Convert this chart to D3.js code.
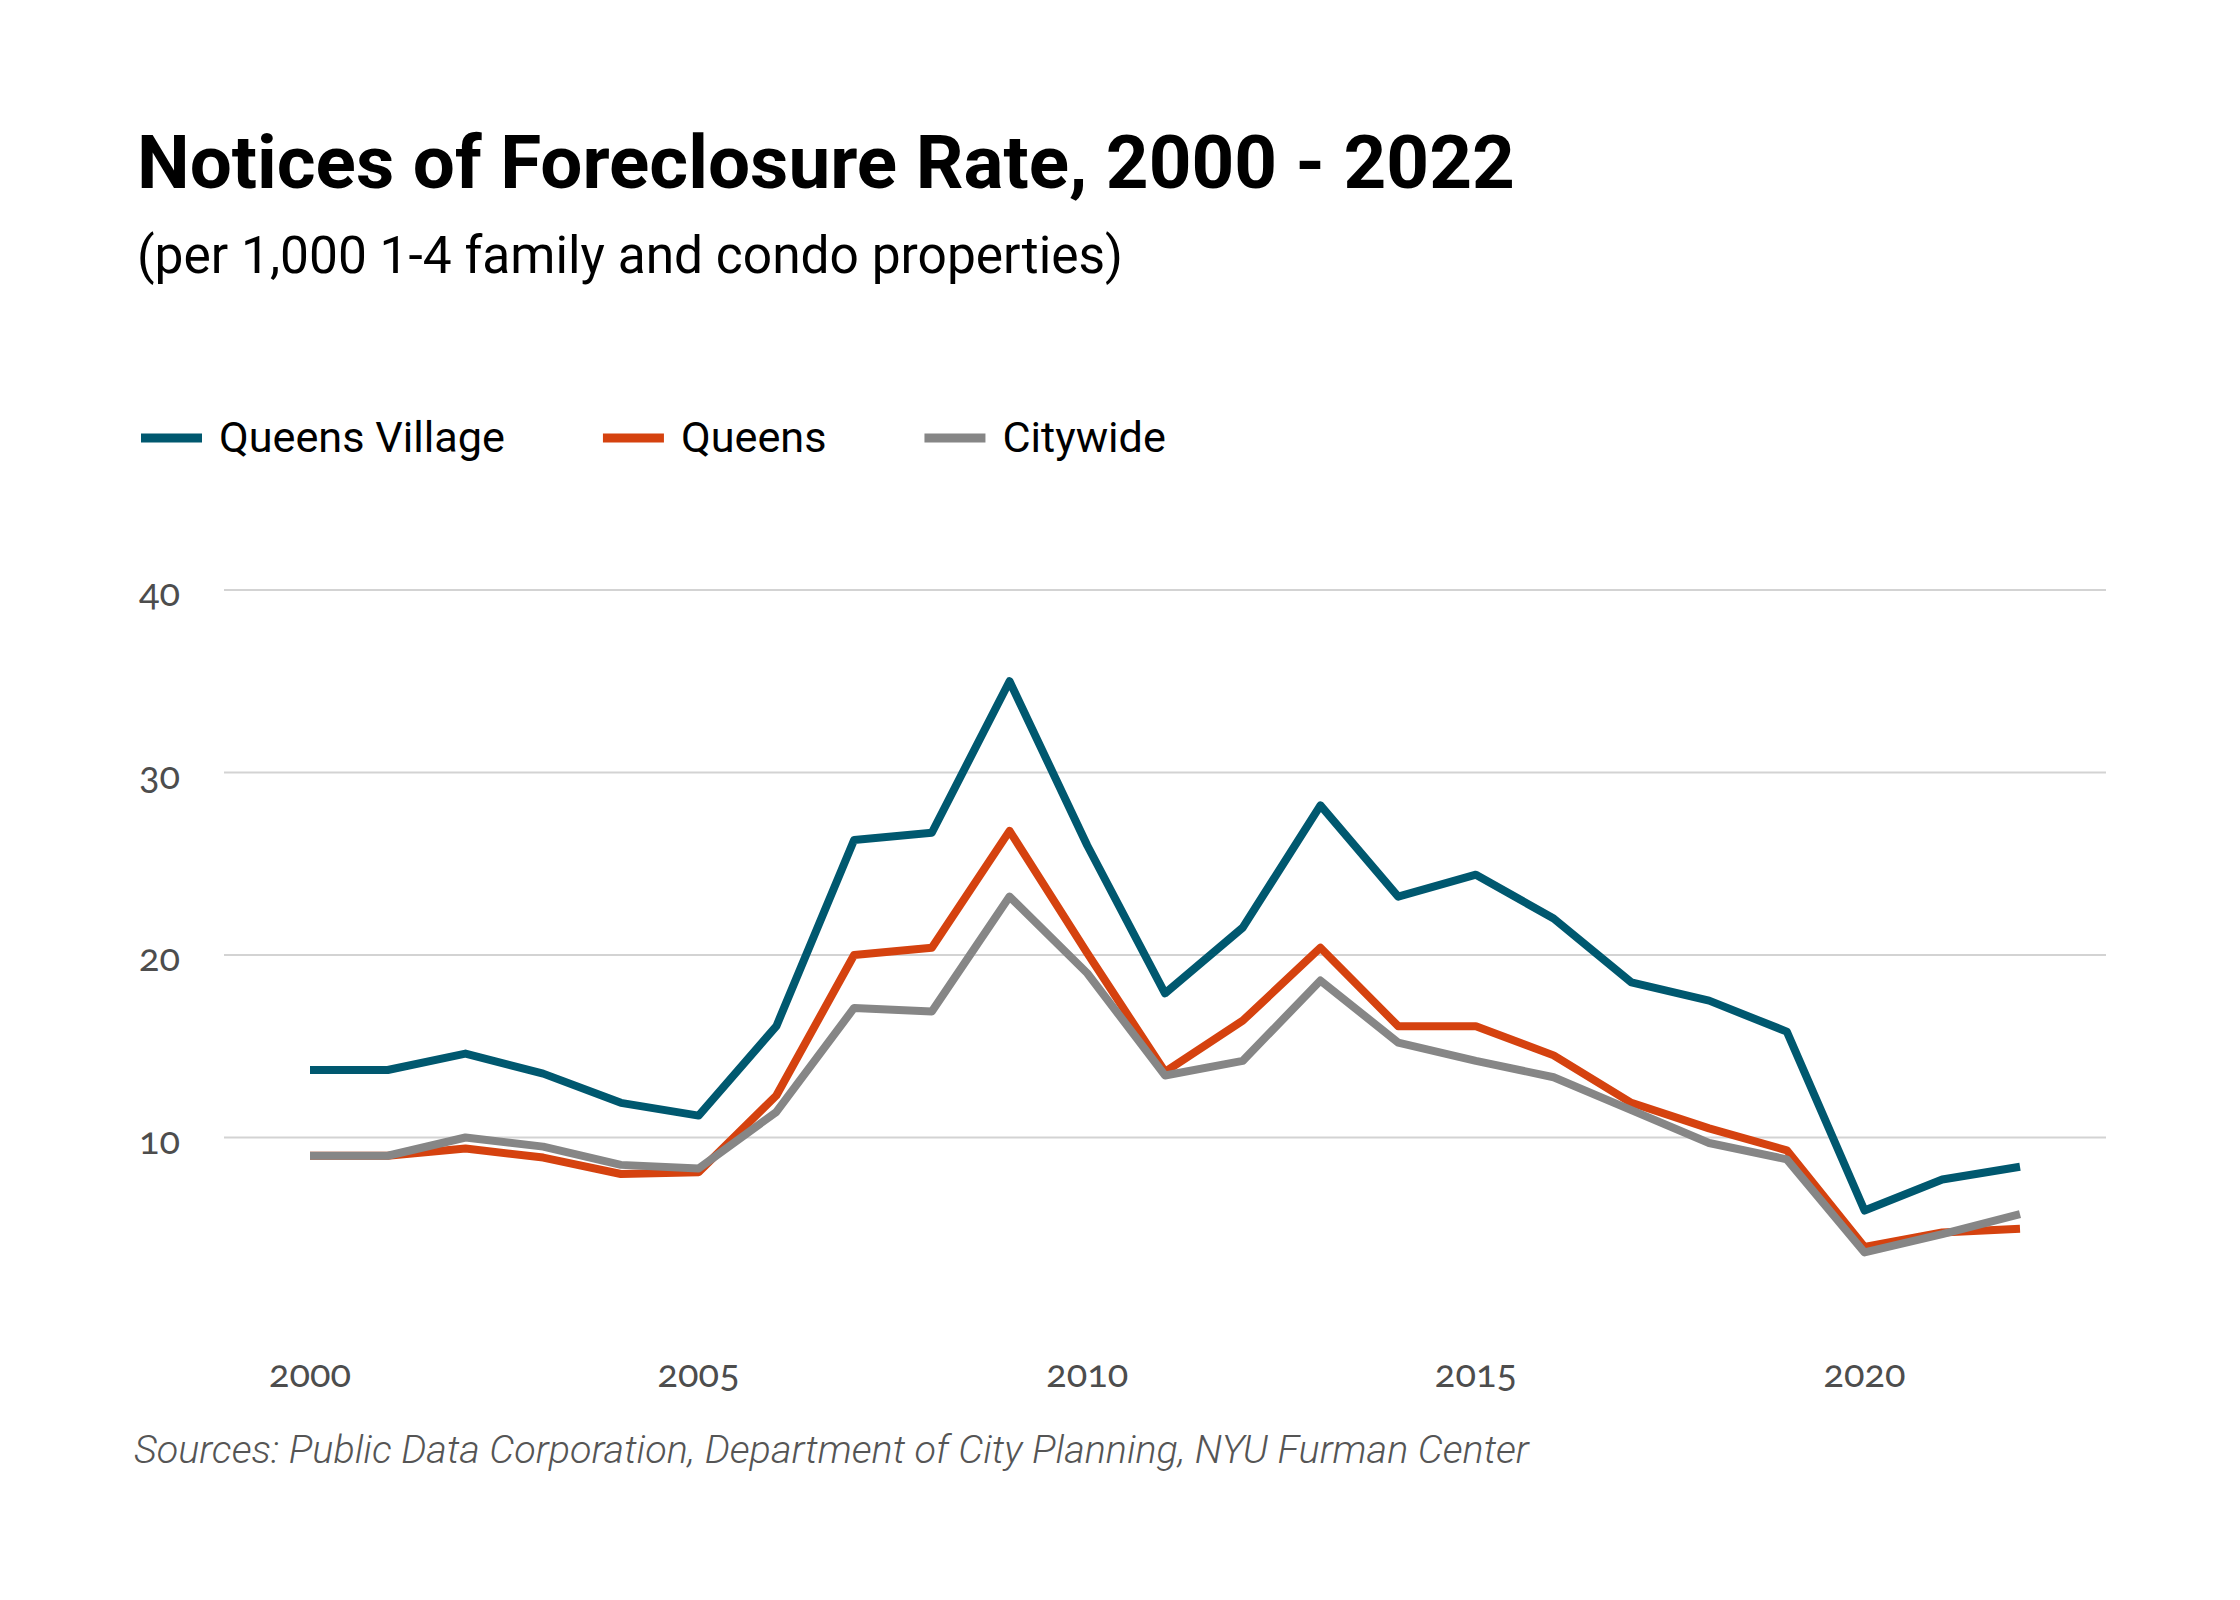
<!doctype html>
<html>
<head>
  <meta charset="utf-8">
  <script src="https://cdnjs.cloudflare.com/ajax/libs/d3/7.8.5/d3.min.js"></script>
  <style>
    body { margin: 0; background: #fff; }
    svg { display: block; }
    .tick-label { font-family: Lato, "Open Sans", sans-serif; font-variant-numeric: oldstyle-nums; }
  </style>
</head>
<body>
<svg width="2240" height="1600"></svg>
<script>
var years = d3.range(2000, 2023);
var seriesNames = ["Queens Village", "Queens", "Citywide"];
var seriesColors = ["#00586f", "#d5420f", "#868686"];

var queensVillage = [13.7, 13.7, 14.6, 13.5, 11.9, 11.2, 16.1, 26.3, 26.7, 35.0, 26.0, 17.9,
                     21.5, 28.2, 23.2, 24.4, 22.0, 18.5, 17.5, 15.8, 6.0, 7.7, 8.4];
var queens = [9.0, 9.0, 9.4, 8.9, 8.0, 8.1, 12.3, 20.0, 20.4, 26.8, 20.1, 13.6,
              16.4, 20.4, 16.1, 16.1, 14.5, 11.9, 10.5, 9.3, 4.0, 4.8, 5.0];
var citywide = [9.0, 9.0, 10.0, 9.5, 8.5, 8.3, 11.4, 17.1, 16.9, 23.2, 19.0, 13.4,
                14.2, 18.6, 15.2, 14.2, 13.3, 11.5, 9.7, 8.8, 3.7, 4.7, 5.8];

var yTicks = [10, 20, 30, 40];
var xTicks = [2000, 2005, 2010, 2015, 2020];

var titleText = "Notices of Foreclosure Rate, 2000 - 2022";
var subtitleText = "(per 1,000 1-4 family and condo properties)";
var sourceText = "Sources: Public Data Corporation, Department of City Planning, NYU Furman Center";

var svg = d3.select("svg");

// scale a text's font so it spans the width it has in the original
function fitWidth(sel, target) {
  var size = parseFloat(sel.style("font-size"));
  var w = sel.node().getComputedTextLength();
  var s = size * target / w;
  sel.style("font-size", s + "px");
  return s;
}

var title = svg.append("text")
  .attr("x", 137).attr("y", 188)
  .style("font-family", "Roboto, sans-serif")
  .style("font-weight", 700)
  .style("font-size", "66px")
  .style("fill", "#000")
  .text(titleText);
fitWidth(title, 1378);

var subtitle = svg.append("text")
  .attr("x", 137).attr("y", 273)
  .style("font-family", "Roboto, sans-serif")
  .style("font-size", "44px")
  .style("fill", "#000")
  .text(subtitleText);
fitWidth(subtitle, 986);

var x = d3.scaleLinear().domain([2000, 2022]).range([310, 2020]);
var y = d3.scaleLinear().domain([0, 40]).range([1320, 590]);

// legend
var legend = svg.append("g").attr("transform", "translate(141,438)");
var legendSize = null;
var lx = 0;
seriesNames.forEach(function(name, i) {
  var item = legend.append("g").attr("transform", "translate(" + lx + ",0)");
  item.append("line")
    .attr("x1", 0).attr("x2", 61)
    .attr("y1", 0).attr("y2", 0)
    .style("stroke", seriesColors[i])
    .style("stroke-width", 9);
  var t = item.append("text")
    .attr("x", 78).attr("y", 14)
    .style("font-family", "Roboto, sans-serif")
    .style("font-size", (legendSize || 41) + "px")
    .style("fill", "#000")
    .text(name);
  if (!legendSize) legendSize = fitWidth(t, 286);
  lx += 78 + t.node().getComputedTextLength() + 98;
});

// grid
var grid = svg.append("g");
grid.selectAll("line")
  .data(yTicks)
  .enter()
  .append("line")
  .attr("x1", 224).attr("x2", 2106)
  .attr("y1", d => y(d)).attr("y2", d => y(d))
  .style("stroke", "#d3d3d3")
  .style("stroke-width", 2);

grid.selectAll("text")
  .data(yTicks)
  .enter()
  .append("text")
  .attr("class", "tick-label")
  .attr("x", 180)
  .attr("y", d => y(d) + 16)
  .attr("text-anchor", "end")
  .style("font-size", "38px")
  .style("fill", "#4d4d4d")
  .text(d => d);

svg.append("g").selectAll("text")
  .data(xTicks)
  .enter()
  .append("text")
  .attr("class", "tick-label")
  .attr("x", d => x(d))
  .attr("y", 1387)
  .attr("text-anchor", "middle")
  .style("font-size", "38px")
  .style("fill", "#4d4d4d")
  .text(d => d);

// lines
var line = d3.line()
  .x((d, i) => x(years[i]))
  .y(d => y(d));

svg.append("g").selectAll("path")
  .data([queensVillage, queens, citywide])
  .enter()
  .append("path")
  .attr("d", line)
  .style("fill", "none")
  .style("stroke", (d, i) => seriesColors[i])
  .style("stroke-width", 8)
  .style("stroke-linejoin", "round")
  .style("stroke-linecap", "butt");

var source = svg.append("text")
  .attr("x", 134).attr("y", 1463)
  .style("font-family", "Roboto, sans-serif")
  .style("font-style", "italic")
  .style("font-weight", 300)
  .style("font-size", "37px")
  .style("fill", "#555")
  .text(sourceText);
fitWidth(source, 1395);
</script>
</body>
</html>
